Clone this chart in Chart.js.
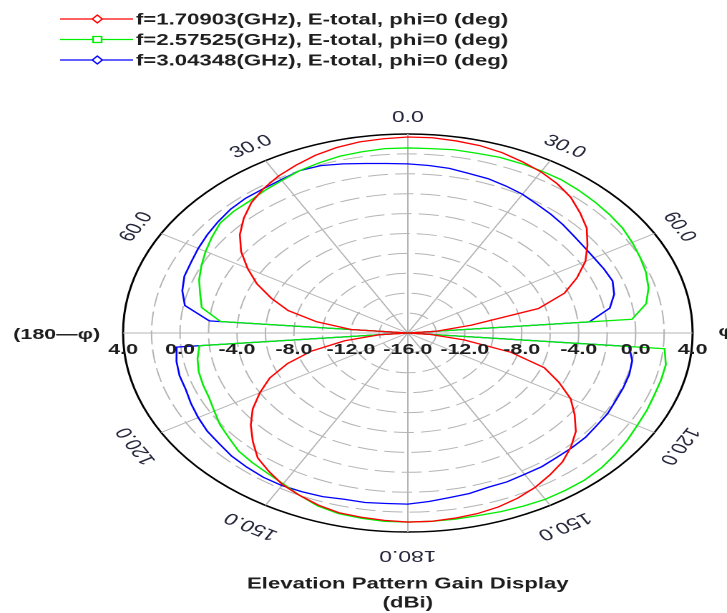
<!DOCTYPE html>
<html>
<head>
<meta charset="utf-8">
<script src="https://cdn.jsdelivr.net/npm/chart.js@4.4.1/dist/chart.umd.min.js"></script>
<style>
  html, body { margin: 0; padding: 0; background: #fff; overflow: hidden; }
  /* the reference is stretched sideways, so the chart is drawn narrow and scaled */
  #wrap { width: 508px; height: 613px; transform: scaleX(1.431); transform-origin: 0 0; }
</style>
</head>
<body>
<div id="wrap"><canvas id="polar"></canvas></div>
<script>
// gain in dBi, theta 0..180 step 5; right half is phi=0, left half is phi=180
const redRight = [3.7, 3.7, 3.6, 3.5, 3.3, 3.0, 2.7, 2.3, 1.8, 1.1, 0.4, -0.6, -1.6, -2.9, -4.3, -6.5, -11.5, -14.0, -16,
    -14.5, -12.0, -8.5, -5.8, -4.3, -2.8, -1.7, -0.6, 0.2, 0.9, 1.4, 1.9, 2.3, 2.6, 2.8, 2.9, 3.0, 3.0];
const redLeft = [3.7, 3.6, 3.5, 3.3, 3.0, 2.6, 2.2, 1.7, 1.1, 0.3, -0.6, -1.7, -3.0, -4.3, -5.8, -7.3, -9.5, -12.0, -16,
    -14.0, -11.5, -9.0, -7.0, -5.3, -4.0, -2.7, -1.6, -0.6, 0.4, 1.0, 1.6, 2.0, 2.4, 2.7, 2.8, 2.9, 3.0];
const greenRight = [2.6, 2.6, 2.7, 2.7, 2.8, 2.8, 2.8, 2.8, 2.7, 2.6, 2.5, 2.4, 2.2, 2.0, 1.8, 1.5, 1.0, -0.2, -16,
    2.1, 2.4, 2.4, 2.4, 2.5, 2.6, 2.8, 3.0, 3.2, 3.3, 3.3, 3.3, 3.2, 3.1, 3.0, 3.0, 3.0, 3.0];
const greenLeft = [2.6, 2.6, 2.5, 2.4, 2.2, 2.0, 1.7, 1.5, 1.3, 1.3, 1.2, 0.8, 0.4, 0.0, -0.4, -0.9, -1.3, -2.8, -16,
    -1.3, -1.0, -0.8, -0.7, -0.6, -0.3, 0.1, 0.4, 0.8, 1.0, 1.2, 1.5, 2.0, 2.5, 2.8, 2.9, 3.0, 3.0];
const blueRight = [1.0, 0.9, 0.8, 0.6, 0.5, 0.3, 0.1, -0.2, -0.4, -0.6, -0.8, -0.9, -0.9, -0.8, -0.7, -1.0, -1.6, -3.2, -16,
    -0.4, 0.0, 0.1, 0.1, 0.1, 0.2, 0.2, 0.3, 0.3, 0.3, 0.4, 0.4, 0.5, 0.5, 0.7, 0.8, 1.0, 1.2];
const blueLeft = [1.0, 1.1, 1.3, 1.6, 1.9, 2.0, 1.8, 1.7, 1.7, 1.6, 1.4, 1.2, 1.0, 0.8, 0.7, 0.4, -0.1, -2.0, -16,
    0.3, 0.5, 0.6, 0.6, 0.8, 1.0, 1.2, 1.3, 1.5, 1.6, 1.7, 1.7, 1.6, 1.5, 1.3, 1.3, 1.2, 1.2];

const legendNames = [
    'f=1.70903(GHz), E-total, phi=0 (deg)',
    'f=2.57525(GHz), E-total, phi=0 (deg)',
    'f=3.04348(GHz), E-total, phi=0 (deg)'
];
const seriesColors = ['#ff0000', '#00ee00', '#0000ff'];
const markers = ['diamond', 'square', 'diamond'];
const tickValues = [4, 0, -4, -8, -12, -16];
const angleMarks = [0, 30, 60, 120, 150, 180];

// one label every 5 deg, clockwise from the top
const angles = [];
for (let a = 0; a < 360; a += 5) angles.push(a);

function fullTurn(right, left) {
    return right.concat(left.slice(1, 36).reverse());
}

const FONT = '"Liberation Sans", Arial, sans-serif';
const TEXT = '#1e1e1e';

function drawMarker(ctx, type, x, y, color) {
    ctx.strokeStyle = color;
    ctx.fillStyle = '#fff';
    ctx.lineWidth = 1.2;
    ctx.beginPath();
    if (type === 'square') {
        ctx.rect(x - 3, y - 3, 6, 6);
    } else {
        ctx.moveTo(x, y - 4);
        ctx.lineTo(x + 3.5, y);
        ctx.lineTo(x, y + 4);
        ctx.lineTo(x - 3.5, y);
        ctx.closePath();
    }
    ctx.fill();
    ctx.stroke();
}

const overlay = {
    id: 'overlay',
    afterDatasetsDraw(chart) {
        const ctx = chart.ctx;
        const r = chart.scales.r;
        ctx.save();

        // gain ticks along the horizontal axis
        ctx.font = 'bold 15px ' + FONT;
        ctx.fillStyle = TEXT;
        ctx.textAlign = 'center';
        ctx.textBaseline = 'middle';
        tickValues.forEach(v => {
            const d = r.getDistanceFromCenterForValue(v);
            const y = r.yCenter + 17;
            ctx.fillText(v.toFixed(1), r.xCenter - d, y);
            if (d > 0) ctx.fillText(v.toFixed(1), r.xCenter + d, y);
        });

        // theta labels, turned along the circle
        ctx.font = '16px ' + FONT;
        ctx.fillStyle = '#24243a';
        const rad = r.drawingArea + 20;
        angleMarks.forEach(a => {
            const sides = (a === 0 || a === 180) ? [a] : [a, -a];
            sides.forEach(s => {
                const idx = ((s + 360) % 360) / 5;
                const p = r.getPointPosition(idx, rad);
                ctx.save();
                ctx.translate(p.x, p.y + 3.5);
                ctx.rotate(s * Math.PI / 180);
                ctx.fillText(a.toFixed(1), 0, 0);
                ctx.restore();
            });
        });

        ctx.fillStyle = TEXT;
        ctx.font = 'bold 15px ' + FONT;
        ctx.textAlign = 'right';
        ctx.fillText('(180\u2014\u03c6)', r.xCenter - r.drawingArea - 16, r.yCenter + 2);
        ctx.textAlign = 'left';
        ctx.fillText('\u03c6', r.xCenter + r.drawingArea + 18, r.yCenter - 1);

        // legend
        ctx.font = 'bold 15.5px ' + FONT;
        legendNames.forEach((name, i) => {
            const y = 19 + i * 20.5;
            ctx.strokeStyle = seriesColors[i];
            ctx.lineWidth = 1.2;
            ctx.beginPath();
            ctx.moveTo(42, y);
            ctx.lineTo(93, y);
            ctx.stroke();
            drawMarker(ctx, markers[i], 68, y, seriesColors[i]);
            ctx.fillStyle = TEXT;
            ctx.textAlign = 'left';
            ctx.fillText(name, 95, y + 1);
        });
        ctx.restore();
    }
};

const ctx = document.getElementById('polar');
new Chart(ctx, {
    type: 'radar',
    data: {
        labels: angles,
        datasets: [
            { label: legendNames[0], data: fullTurn(redRight, redLeft), borderColor: seriesColors[0] },
            { label: legendNames[1], data: fullTurn(greenRight, greenLeft), borderColor: seriesColors[1] },
            { label: legendNames[2], data: fullTurn(blueRight, blueLeft), borderColor: seriesColors[2] }
        ]
    },
    options: {
        responsive: true,
        maintainAspectRatio: false,
        animation: false,
        devicePixelRatio: 2,
        layout: { padding: { left: 86, right: 24, top: 101, bottom: 0 } },
        elements: {
            line: { borderWidth: 1.3, fill: false, tension: 0 },
            point: { radius: 0, hoverRadius: 0 }
        },
        scales: {
            r: {
                min: -16,
                max: 4,
                startAngle: 0,
                ticks: { stepSize: 2, display: false },
                pointLabels: { display: false },
                grid: {
                    circular: true,
                    color: c => (c.tick && c.tick.value === 4) ? '#000' : '#b4b4b4',
                    lineWidth: c => (c.tick && c.tick.value === 4) ? 1.5 : 1
                },
                border: {
                    dash: c => (c.tick && c.tick.value === 4) ? [] : [14, 5]
                },
                angleLines: {
                    color: '#b4b4b4',
                    lineWidth: c => c.index % 6 === 0 ? 1 : 0
                }
            }
        },
        plugins: {
            legend: { display: false },
            tooltip: { enabled: false },
            title: {
                display: true,
                position: 'bottom',
                fullSize: false,
                text: ['Elevation Pattern Gain Display', '(dBi)'],
                color: TEXT,
                font: { family: FONT, size: 15.5, weight: 'bold', lineHeight: 1.23 },
                padding: { top: 8, bottom: 0 }
            }
        }
    },
    plugins: [overlay]
});
</script>
</body>
</html>
